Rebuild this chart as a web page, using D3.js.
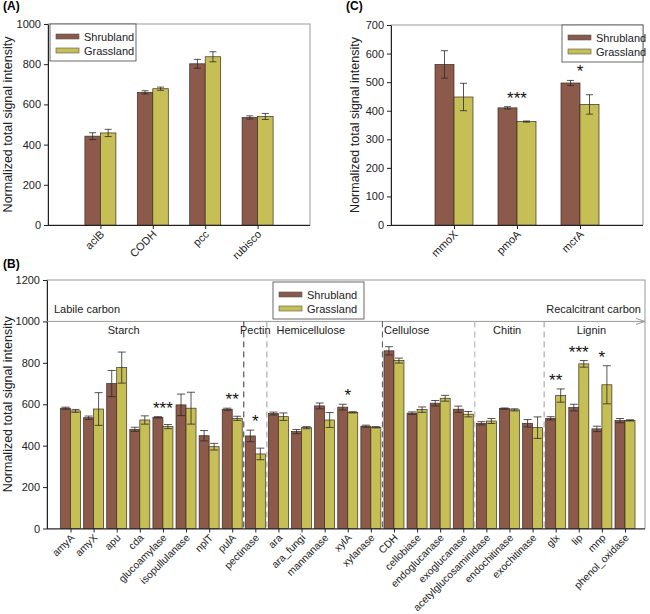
<!DOCTYPE html>
<meta charset="utf-8">
<style>
body { margin: 0; background: #fff; }
svg { font-family: "Liberation Sans", Arial, sans-serif; }
.tick text { font-size: 11px; fill: #222; }
.tick line, .domain { stroke: #222; }
.frame { fill: none; stroke: #999; }
.lab { font-size: 11px; fill: #222; }
.panel { font-size: 12px; font-weight: bold; }
.star { font-size: 17px; fill: #111; }
</style>
<svg width="650" height="614"></svg>
<script src="https://d3js.org/d3.v7.min.js"></script>
<script>

// panel A: carbon fixation genes
const genesA = ["aclB", "CODH", "pcc", "rubisco"];
const shrubA = [442, 660, 802, 535];
const shrubErrA = [17, 8, 22, 8];
const grassA = [458, 678, 837, 540];
const grassErrA = [18, 8, 25, 15];

// panel C: methane cycling genes
const genesC = ["mmoX", "pmoA", "mcrA"];
const shrubC = [562, 410, 497];
const shrubErrC = [48, 4, 9];
const grassC = [448, 362, 422];
const grassErrC = [48, 2, 34];
const starsC = ["", "***", "*"];

// panel B: carbon degradation genes
const genesB = ["amyA", "amyX", "apu", "cda", "glucoamylase", "isopullulanase", "nplT", "pulA",
  "pectinase", "ara", "ara_fungi", "mannanase", "xylA", "xylanase",
  "CDH", "cellobiase", "endoglucanase", "exoglucanase",
  "acetylglucosaminidase", "endochitinase", "exochitinase",
  "glx", "lip", "mnp", "phenol_oxidase"];
const shrubB = [581, 535, 700, 479, 537, 597, 448, 576, 447, 555, 468, 592, 586, 494,
  858, 557, 605, 576, 508, 579, 508, 532, 584, 481, 521];
const shrubErrB = [5, 8, 63, 10, 3, 52, 25, 5, 28, 7, 10, 14, 14, 5,
  20, 6, 13, 15, 8, 3, 18, 8, 16, 13, 10];
const grassB = [568, 577, 777, 524, 492, 581, 395, 532, 360, 540, 487, 524, 561, 489,
  811, 574, 629, 552, 519, 573, 487, 642, 795, 694, 522];
const grassErrB = [7, 79, 75, 20, 10, 77, 16, 10, 28, 18, 5, 36, 3, 3,
  12, 13, 14, 13, 12, 5, 52, 32, 16, 92, 3];
const starsB = ["", "", "", "", "***", "", "", "**", "*", "", "", "", "*", "",
  "", "", "", "", "", "", "", "**", "***", "*", ""];
const groupsB = ["Starch", "Pectin", "Hemicellulose", "Cellulose", "Chitin", "Lignin"];
const groupSizes = [8, 1, 5, 4, 3, 4];

const sites = ["Shrubland", "Grassland"];
const colors = ["#8c5a4a", "#c6bf56"];

const svg = d3.select("svg");

function panel(o) {
  const g = svg.append("g");
  const y = d3.scaleLinear().domain([0, o.ymax]).range([o.bottom, o.top]);
  const x = d3.scaleLinear().domain(o.xdom).range(o.xrange);

  g.append("rect").attr("class", "frame")
      .attr("x", o.left).attr("y", o.top)
      .attr("width", o.right - o.left).attr("height", o.bottom - o.top);

  g.append("g").attr("transform", "translate(" + o.left + ",0)")
      .call(d3.axisLeft(y).tickValues(d3.range(0, o.ymax + 1, o.ystep))
        .tickFormat(d3.format("d")).tickSize(4).tickSizeOuter(0));

  g.append("text").attr("class", "lab")
      .attr("transform", "translate(" + o.ylabX + "," + (o.top + o.bottom) / 2 + ") rotate(-90)")
      .attr("text-anchor", "middle").style("font-size", "12.5px")
      .text("Normalized total signal intensity");

  const series = [[o.shrub, o.shrubErr], [o.grass, o.grassErr]];
  series.forEach(([vals, errs], s) => {
    const bx = i => x(i) + (s - 1) * o.bw;
    g.selectAll(null).data(vals).join("rect")
        .attr("x", (d, i) => bx(i)).attr("width", o.bw)
        .attr("y", d => y(d)).attr("height", d => o.bottom - y(d))
        .attr("fill", colors[s]).attr("stroke", "#3c2c24").attr("stroke-width", 0.7);
    const eb = g.selectAll(null).data(vals).join("g")
        .attr("stroke", "#2a2a2a").attr("stroke-width", 0.8);
    const cx = i => bx(i) + o.bw / 2;
    eb.append("line").attr("x1", (d, i) => cx(i)).attr("x2", (d, i) => cx(i))
        .attr("y1", (d, i) => y(d + errs[i])).attr("y2", (d, i) => y(d - errs[i]));
    [1, -1].forEach(sg => {
      eb.append("line").attr("x1", (d, i) => cx(i) - o.cap).attr("x2", (d, i) => cx(i) + o.cap)
          .attr("y1", (d, i) => y(d + sg * errs[i])).attr("y2", (d, i) => y(d + sg * errs[i]));
    });
  });

  g.append("g").attr("transform", "translate(0," + o.bottom + ")")
      .call(d3.axisBottom(x).tickValues(d3.range(o.genes.length)).tickSize(4)
        .tickFormat(i => o.genes[i]))
      .call(a => a.select(".domain").attr("d", "M" + o.left + ",0.5H" + o.right))
      .selectAll("text")
        .style("font-size", o.xFont)
        .attr("text-anchor", "end").attr("dy", null).attr("y", null)
        .attr("transform", "translate(4,10) rotate(-45)");

  if (o.stars) {
    g.selectAll(null).data(o.stars).join("text").attr("class", "star")
        .attr("text-anchor", "middle")
        .attr("x", (d, i) => x(i))
        .attr("y", (d, i) => y(Math.max(o.shrub[i] + o.shrubErr[i], o.grass[i] + o.grassErr[i])) + o.starDy)
        .text(d => d);
  }

  // legend
  const lg = g.append("g").attr("transform", "translate(" + o.legX + "," + o.legY + ")");
  lg.append("rect").attr("width", o.legW).attr("height", 37)
      .attr("fill", "#fff").attr("stroke", "#444").attr("stroke-width", 0.8);
  sites.forEach((s, k) => {
    lg.append("rect").attr("x", 6).attr("y", 10 + k * 14).attr("width", 23).attr("height", 5)
        .attr("fill", colors[k]).attr("stroke", "#555").attr("stroke-width", 0.6);
    lg.append("text").attr("class", "lab").attr("x", 34).attr("y", 16.5 + k * 14).text(s);
  });
  return {x, y, g};
}

panel({
  genes: genesA, shrub: shrubA, shrubErr: shrubErrA, grass: grassA, grassErr: grassErrA,
  left: 48, right: 310, top: 24, bottom: 225, ymax: 1000, ystep: 200, xFont: "11px",
  xdom: [-1, 4], xrange: [48, 310], bw: 15.5, cap: 3.5, ylabX: 12,
  legX: 50, legY: 24, legW: 86
});

panel({
  genes: genesC, shrub: shrubC, shrubErr: shrubErrC, grass: grassC, grassErr: grassErrC,
  stars: starsC, starDy: -3, xFont: "11px",
  left: 391, right: 643, top: 25, bottom: 225, ymax: 700, ystep: 100,
  xdom: [-1, 3], xrange: [391, 643], bw: 19, cap: 3.5, ylabX: 359,
  legX: 562, legY: 25, legW: 81
});

const B = panel({
  genes: genesB, shrub: shrubB, shrubErr: shrubErrB, grass: grassB, grassErr: grassErrB,
  stars: starsB, starDy: -3, xFont: "10.3px",
  left: 47, right: 645, top: 280, bottom: 528.5, ymax: 1200, ystep: 200,
  xdom: [0, 24], xrange: [70.5, 625], bw: 10, cap: 4, ylabX: 12,
  legX: 273, legY: 282, legW: 91
});

// carbon gradient arrow at 1000
const yl = B.y(1000);
B.g.append("path").attr("fill", "none").attr("stroke", "#999").attr("stroke-width", 1)
    .attr("d", "M47," + yl + "H645M636," + (yl - 3) + "L645," + yl + "L636," + (yl + 3));
B.g.append("text").attr("class", "lab").style("font-size", "11px")
    .attr("x", 54).attr("y", yl - 8).text("Labile carbon");
B.g.append("text").attr("class", "lab").style("font-size", "11px")
    .attr("x", 641).attr("y", yl - 8).attr("text-anchor", "end").text("Recalcitrant carbon");

// group separators and names
const sepColors = ["#333", "#999", "#555", "#aaa", "#999"];
const labelAt = [2.3, 8, 10.4, 14.55, 18.9, 22.55];
let start = 0;
groupsB.forEach((name, k) => {
  B.g.append("text").attr("class", "lab").style("font-size", "11px")
      .attr("x", B.x(labelAt[k])).attr("y", yl + 13).attr("text-anchor", "middle").text(name);
  start += groupSizes[k];
  if (k < groupsB.length - 1) {
    const sx = B.x(start - 0.5);
    B.g.append("line").attr("x1", sx).attr("x2", sx).attr("y1", yl).attr("y2", 528)
        .attr("stroke", sepColors[k]).attr("stroke-width", 1).attr("stroke-dasharray", "6,4");
  }
});

// panel letters
[["(A)", 3, 10], ["(C)", 346, 10], ["(B)", 3, 268]].forEach(([t, px, py]) => {
  svg.append("text").attr("class", "panel").attr("x", px).attr("y", py).text(t);
});

</script>
